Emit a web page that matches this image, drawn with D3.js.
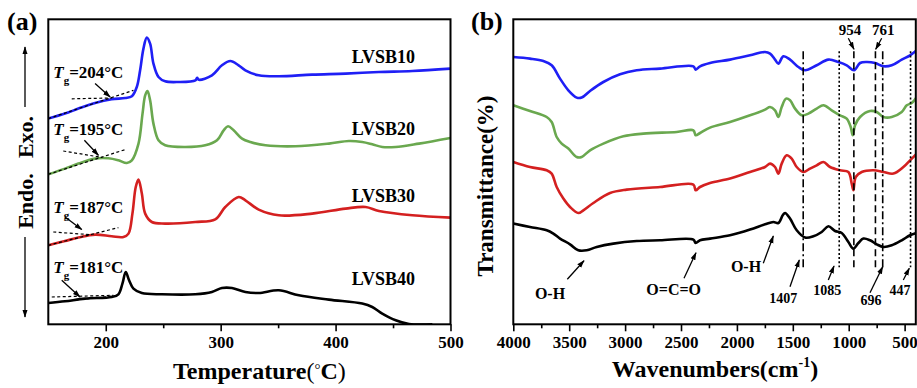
<!DOCTYPE html>
<html><head><meta charset="utf-8">
<script src="https://cdn.jsdelivr.net/npm/d3@7"></script>
<style>
html,body{margin:0;padding:0;background:#fff;}
svg text{font-family:"Liberation Serif","Times New Roman",serif;font-weight:bold;fill:#000;}
</style></head>
<body><svg id="c" width="917" height="388"></svg>
<script>
// ---------- DATA ----------
// Panel (a): DSC curves, [temperature (°C), heat flow (a.u., offset)]
const dscLVSB10 = [[150,205.7],[164.5,210.7],[176.2,215.7],[190.7,221.3],[205.2,225],[216.9,226.3],[222.7,228],[227,237.3],[229.9,254],[232.8,275.7],[235.7,286.7],[238.6,280.7],[241.5,260.7],[245.9,247.3],[251.7,243],[263.3,242.3],[278,244],[279.5,246.5],[281,244.5],[292.4,249],[301.1,259],[308.4,263.3],[315.6,259],[321.5,254],[333.1,249],[350.6,248],[379.6,249.7],[408.7,250.7],[437.7,252.3],[466.8,253.3],[500,255.7]];
const dscLVSB20 = [[150,150],[164.5,155.7],[176.2,160.7],[190.7,165.7],[202.3,166],[211,164],[218.3,161.3],[222.7,164],[228.5,180.7],[232,210.7],[234.3,229],[236.3,233.3],[238.6,224],[241.5,200.7],[245.9,184],[251.7,179],[269.2,177.3],[286.6,179],[296.8,184],[302.6,194],[306.4,198],[311.3,194],[318.6,185.7],[325.8,182.3],[339,179],[365.1,178],[394.2,180.7],[411.6,183.3],[423.2,182.3],[431.9,180],[440.6,177.3],[452.3,177.3],[472.6,180.7],[500,186.3]];
const dscLVSB30 = [[150,79],[164.5,83.3],[176.2,86.7],[190.7,89.7],[205.2,88],[215.4,87.3],[219.8,90.7],[223.2,110.7],[226.1,137.3],[228.5,144.7],[231.4,130.7],[234.3,110.7],[240.1,102.3],[251.7,100.7],[277.9,102.3],[295.3,105],[304,117.3],[315.7,127.3],[321.5,124],[333.1,114.7],[350.6,109],[379.6,110.7],[408.7,115.7],[426.1,117.3],[437.7,113.3],[466.8,109],[500,106.7]];
const dscLVSB40 = [[150,21.3],[164.5,23],[182,25.7],[205.2,27.3],[211,30],[214.5,40.7],[217.4,52.3],[220.3,44],[224.1,35.7],[231.4,31.3],[248.8,30],[277.9,30],[292.4,32.3],[301.1,36.3],[309.8,36.3],[321.5,32.3],[333.1,31.3],[350.6,34],[368,29],[394.2,24.7],[423.2,20.7],[431.9,17.3],[440.6,10.7],[452.3,4],[463.9,0.3],[484.2,0]];
const dscNames = ["LVSB10","LVSB20","LVSB30","LVSB40"];
const tgValues = [204,195,187,181];
// Tg construction lines, [T, value] pairs
const tgLineA = [[[150,205.7],[224.1,234]], [[150,150],[216.9,174.7]], [[150,79],[211,96.7]], [[150,21.3],[206.7,28.3]]];
const tgLineB = [[[170.4,225.5],[205.2,226.3]], [[163,173.3],[197,166.8]], [[154.3,92.3],[188,89.5]], [[153,27.3],[206.7,29]]];
const tgArrows = [[[190.7,240.7],[203.8,227.3]], [[181.4,184],[193.6,169]], [[164.6,107.3],[179.1,94.7]], [[161.7,44],[177.6,27.3]]];
const dscTicks = [200,300,400,500];
const dscMinor = [250,350,450];

// Panel (b): FTIR curves, [wavenumber (cm-1), transmittance (a.u., offset)]
const irLVSB10 = [[4000,267.3],[3850.6,265.7],[3731.3,263.3],[3656.8,259],[3582.2,245.7],[3507.7,234],[3433.1,226.7],[3388.4,226.7],[3313.8,233.3],[3194.5,242.3],[3045.4,250],[2896.4,254],[2687.6,255.7],[2389.4,258],[2368.5,254.7],[2329.8,258],[2240.5,261.3],[2061.6,264.7],[1882.7,269],[1748.5,272.3],[1703.7,270.7],[1659,264.7],[1629.2,260.7],[1584.4,268],[1524.8,264.7],[1450.3,257.3],[1390.6,254],[1286.2,259],[1181.9,264.7],[1092.4,262.3],[1017.9,259],[952.3,254],[898.6,261.3],[839,262.3],[764.4,261.3],[689.9,258],[615.3,259],[525.8,264.7],[451.3,269],[391.6,274]];
const irLVSB20 = [[4000,219],[3850.6,213.3],[3701.5,207.3],[3656.8,202.3],[3612,187.3],[3567.3,180.7],[3507.7,175.7],[3433.1,167.3],[3388.4,167.3],[3313.8,174],[3194.5,180.7],[3015.6,188],[2836.7,190.7],[2538.5,192.3],[2389.4,194],[2368.5,189],[2329.8,191.3],[2240.5,196.7],[2061.6,202.3],[1882.7,209],[1748.5,214.7],[1703.7,217.3],[1659,214],[1629.2,207.3],[1599.4,217.3],[1560.6,225.7],[1524.8,224],[1480,215.7],[1420.4,209],[1360.8,210.7],[1286.2,215.7],[1226.6,219],[1152,214],[1077.5,209],[1017.9,205.7],[982.1,197.3],[964.2,189],[943.4,199],[898.6,207.3],[809.1,213.3],[749.5,212.3],[689.9,207.3],[615.3,207.3],[525.8,212.3],[481,219],[436.4,221.3],[391.6,227.3]];
const irLVSB30 = [[4000,162.3],[3850.6,157.3],[3701.5,154],[3656.8,150.7],[3612,137.3],[3552.4,125.7],[3492.8,117.3],[3418.2,111.3],[3373.5,114],[3284,121.3],[3134.9,131.3],[2985.8,134.7],[2687.6,137.3],[2389.4,139.7],[2368.5,134],[2329.8,137.3],[2240.5,141.3],[2061.6,145.7],[1882.7,152.3],[1748.5,157.3],[1703.7,160.7],[1659,157.3],[1629.2,150.7],[1599.4,160.7],[1555.1,169],[1510,165.7],[1465.2,157.3],[1405.6,152.3],[1346,155.7],[1286.2,159],[1226.6,162.3],[1167,157.3],[1077.5,154],[1003,152.3],[973.2,140.7],[958.3,134],[937.4,147.3],[883.7,152.3],[779.4,154],[689.9,152.3],[600.4,150.7],[511,157.3],[451.3,164],[391.6,170.7]];
const irLVSB40 = [[4000,100.7],[3850.6,97.3],[3701.5,94],[3641.9,90.7],[3582.2,85.7],[3492.8,80],[3418.2,74],[3343.7,74],[3254.2,77.3],[3105.1,80.7],[2896.4,83.3],[2687.6,84],[2389.4,84.7],[2368.5,81.3],[2329.8,84],[2240.5,85.7],[2061.6,89],[1882.7,94.7],[1748.5,100],[1674,102.3],[1629.2,101.3],[1590.4,109],[1569.6,111.3],[1524.8,105.7],[1465.2,94],[1390.6,86.7],[1316,88],[1241.5,92.3],[1181.9,98],[1122.3,93.3],[1062.7,91.3],[1003,82.3],[958.3,75.7],[913.5,81.3],[868.8,85.7],[809.1,84],[749.5,80],[689.9,77.3],[615.3,79],[525.8,84],[451.3,89],[391.6,91.3]];
const irMarks = [1407,1085,954,761,696,447];
const irMarkStyle = ["dashdot","dot","dash","dash","dashdot","dot"];
const irTicks = [4000,3500,3000,2500,2000,1500,1000,500];
const irMinor = [3750,3250,2750,2250,1750,1250,750];

const colors = ["#1f1ff5","#6aa84f","#d42020","#000000"];

// ---------- LAYOUT ----------
const svg = d3.select("#c");
const A = {l:48.3, r:450.5, t:19.3, b:324.3};
const B = {l:513.3, r:915.8, t:19.3, b:324.3};
const xA = d3.scaleLinear().domain([150,500]).range([A.l,A.r]);
const yA = d3.scaleLinear().domain([0,305]).range([A.b,A.t]);
const xB = d3.scaleLinear().domain([4000,400]).range([B.l,B.r]);
const yB = d3.scaleLinear().domain([0,305]).range([B.b,B.t]);

const defs = svg.append("defs");
defs.append("clipPath").attr("id","clipA").append("rect").attr("x",A.l).attr("y",A.t).attr("width",A.r-A.l).attr("height",A.b-A.t);
defs.append("clipPath").attr("id","clipB").append("rect").attr("x",B.l).attr("y",B.t).attr("width",B.r-B.l).attr("height",B.b-B.t);
defs.append("marker").attr("id","ah").attr("viewBox","0 0 10 10").attr("refX",9).attr("refY",5)
  .attr("markerWidth",8).attr("markerHeight",8).attr("markerUnits","userSpaceOnUse").attr("orient","auto")
  .append("path").attr("d","M0,1.8 L10,5 L0,8.2 Z").attr("fill","#000");

// ---------- PANEL A ----------
const gA = svg.append("g").attr("clip-path","url(#clipA)");
const lineA = d3.line().x(d=>xA(d[0])).y(d=>yA(d[1])).curve(d3.curveCatmullRom.alpha(0.5));
[dscLVSB10,dscLVSB20,dscLVSB30,dscLVSB40].forEach((s,i)=>{
  gA.append("path").datum(s).attr("d",lineA).attr("fill","none").attr("stroke",colors[i]).attr("stroke-width",2.6).attr("stroke-linejoin","round");
});
const straight = d3.line().x(d=>xA(d[0])).y(d=>yA(d[1]));
tgLineA.concat(tgLineB).forEach(l=>{
  gA.append("path").datum(l).attr("d",straight).attr("fill","none").attr("stroke","#000").attr("stroke-width",1.2).attr("stroke-dasharray","3,2.5");
});
tgArrows.forEach(l=>{
  svg.append("path").datum(l).attr("d",straight).attr("stroke","#000").attr("stroke-width",1.3).attr("marker-end","url(#ah)");
});
// Tg labels
const tgPos = [[154.3,246.7],[154.3,189],[154.3,111.3],[154.3,51.3]];
tgValues.forEach((v,i)=>{
  const t = svg.append("text").attr("x",xA(tgPos[i][0])).attr("y",yA(tgPos[i][1])).attr("font-size",17);
  t.append("tspan").attr("font-style","italic").text("T");
  t.append("tspan").attr("font-size",11).attr("dy",6).text("g");
  t.append("tspan").attr("dy",-6).text("=" + v + "°C");
});
// Series labels
const nameY = [261.7,189,122.3,39];
dscNames.forEach((n,i)=>{
  svg.append("text").attr("x",xA(414)).attr("y",yA(nameY[i])).attr("font-size",18).text(n);
});
// Axis A
const axA = svg.append("g").attr("transform",`translate(0,${A.b})`)
  .call(d3.axisBottom(xA).tickValues(dscTicks).tickSize(7).tickPadding(5).tickFormat(d3.format("d")));
axA.select(".domain").remove();
axA.selectAll("text").attr("font-size",17).style("font-family",'"Liberation Serif","Times New Roman",serif').style("font-weight","bold");
axA.selectAll("line").attr("stroke-width",1.6);
const axAm = svg.append("g").attr("transform",`translate(0,${A.b})`).call(d3.axisBottom(xA).tickValues(dscMinor).tickSize(4).tickFormat(""));
axAm.select(".domain").remove(); axAm.selectAll("line").attr("stroke-width",1.6);
svg.append("rect").attr("x",A.l).attr("y",A.t).attr("width",A.r-A.l).attr("height",A.b-A.t).attr("fill","none").attr("stroke","#000").attr("stroke-width",2);
// X label A
const xlA = svg.append("text").attr("x",(A.l+A.r)/2+10).attr("y",379).attr("text-anchor","middle").attr("font-size",24);
xlA.append("tspan").text("Temperature");
xlA.append("tspan").style("font-weight","normal").text("(");
xlA.append("tspan").attr("font-size",15).attr("dy",-5).style("font-weight","normal").text("°");
xlA.append("tspan").attr("dy",5).text("C");
xlA.append("tspan").style("font-weight","normal").text(")");
// Y label A
svg.append("text").attr("transform","translate(33,137) rotate(-90)").attr("text-anchor","middle").attr("font-size",22).text("Exo.");
svg.append("text").attr("transform","translate(33,201) rotate(-90)").attr("text-anchor","middle").attr("font-size",22).text("Endo.");
svg.append("line").attr("x1",25).attr("x2",25).attr("y1",107).attr("y2",47).attr("stroke","#000").attr("stroke-width",1.3).attr("marker-end","url(#ah)");
svg.append("line").attr("x1",25).attr("x2",25).attr("y1",237).attr("y2",317).attr("stroke","#000").attr("stroke-width",1.3).attr("marker-end","url(#ah)");
svg.append("text").attr("x",7).attr("y",30).attr("font-size",26).text("(a)");

// ---------- PANEL B ----------
const gB = svg.append("g").attr("clip-path","url(#clipB)");
const lineB = d3.line().x(d=>xB(d[0])).y(d=>yB(d[1])).curve(d3.curveCatmullRom.alpha(0.5));
[irLVSB10,irLVSB20,irLVSB30,irLVSB40].forEach((s,i)=>{
  gB.append("path").datum(s).attr("d",lineB).attr("fill","none").attr("stroke",colors[i]).attr("stroke-width",2.6).attr("stroke-linejoin","round");
});
const dashes = {dashdot:"8,3,2,3", dot:"2,2.2", dash:"7,4"};
irMarks.forEach((w,i)=>{
  gB.append("line").attr("x1",xB(w)).attr("x2",xB(w)).attr("y1",yB(273)).attr("y2",yB(57))
    .attr("stroke","#000").attr("stroke-width",1.6).attr("stroke-dasharray",dashes[irMarkStyle[i]]);
});
// Annotations (pixel layout)
const annB = [
  {t:"954", x:850, y:35, a:[848.3,38.3,854,49.3], fs:15},
  {t:"761", x:883.3, y:35, a:[881.7,38.3,875.7,49.3], fs:15},
  {t:"1407", x:783.3, y:303.3, a:[790,286.7,799.3,260], fs:14},
  {t:"1085", x:827.3, y:295, a:[828.3,280,834,266], fs:14},
  {t:"696", x:871, y:305, a:[870,292.7,882.7,266.7], fs:14},
  {t:"447", x:900, y:295, a:[903.3,280,909.3,268.3], fs:14},
  {t:"O-H", x:746, y:271.7, a:[763.3,263.3,773.3,236], fs:16},
  {t:"O-H", x:550, y:299.3, a:[567.3,279.3,584,260.7], fs:16},
  {t:"O=C=O", x:673.7, y:295, a:[684,278.3,696,252.7], fs:16}
];
annB.forEach(a=>{
  svg.append("text").attr("x",a.x).attr("y",a.y).attr("text-anchor","middle").attr("font-size",a.fs).text(a.t);
  svg.append("line").attr("x1",a.a[0]).attr("y1",a.a[1]).attr("x2",a.a[2]).attr("y2",a.a[3]).attr("stroke","#000").attr("stroke-width",1.3).attr("marker-end","url(#ah)");
});
const axB = svg.append("g").attr("transform",`translate(0,${B.b})`)
  .call(d3.axisBottom(xB).tickValues(irTicks).tickSize(7).tickPadding(5).tickFormat(d3.format("d")));
axB.select(".domain").remove();
axB.selectAll("text").attr("font-size",17).style("font-family",'"Liberation Serif","Times New Roman",serif').style("font-weight","bold");
axB.selectAll("line").attr("stroke-width",1.6);
const axBm = svg.append("g").attr("transform",`translate(0,${B.b})`).call(d3.axisBottom(xB).tickValues(irMinor).tickSize(4).tickFormat(""));
axBm.select(".domain").remove(); axBm.selectAll("line").attr("stroke-width",1.6);
svg.append("rect").attr("x",B.l).attr("y",B.t).attr("width",B.r-B.l).attr("height",B.b-B.t).attr("fill","none").attr("stroke","#000").attr("stroke-width",2);
const xlB = svg.append("text").attr("x",715).attr("y",377).attr("text-anchor","middle").attr("font-size",24);
xlB.append("tspan").text("Wavenumbers(cm");
xlB.append("tspan").attr("font-size",14).attr("dy",-10).text("-1");
xlB.append("tspan").attr("dy",10).text(")");
svg.append("text").attr("transform","translate(493,186) rotate(-90)").attr("text-anchor","middle").attr("font-size",23).text("Transmittance(%)");
svg.append("text").attr("x",471).attr("y",30).attr("font-size",26).text("(b)");
</script></body></html>
